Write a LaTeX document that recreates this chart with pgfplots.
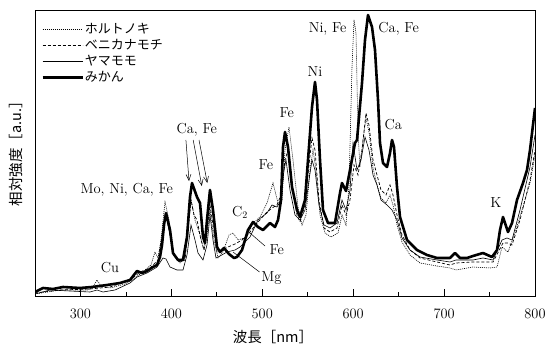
\documentclass[border=0pt]{standalone}
\usepackage{fontspec}
\newfontfamily\jp{Noto Sans CJK JP}
\usepackage{pgfplots}
\pgfplotsset{compat=1.18}
\usetikzlibrary{arrows.meta}
\begin{document}
\fontsize{14.5}{17}\selectfont
\begin{tikzpicture}
\begin{axis}[
  at={(0,0)}, anchor=south west,
  scale only axis, width=500pt, height=286pt,
  xmin=250, xmax=800, ymin=0, ymax=286,
  ytick=\empty,
  xtick={300,400,...,800},
  minor xtick={350,450,...,750},
  xtick pos=bottom,
  tick align=inside,
  major tick length=7pt, minor tick length=4pt,
  every tick/.style={black, line width=0.8pt},
  axis line style={line width=0.9pt},
  xticklabel style={font=\fontsize{14.5}{17}\selectfont, yshift=-8pt},
  legend cell align=left,
  legend image code/.code={\draw[#1] (0pt,0pt) -- (40pt,0pt);},
  legend style={draw=none, fill=none, at={(rel axis cs:0,1)}, anchor=north west,
    xshift=6pt, yshift=-12pt, inner sep=0pt, row sep=1pt,
    font=\jp\fontsize{13}{15}\selectfont,
    nodes={inner sep=1pt, text height=10pt, text depth=3pt}},
]
\addplot[black, line width=0.6pt, dash pattern=on 1pt off 1pt] coordinates {
(250,2)(277.5,6)(308.3,6)(313.8,9)(318.2,16)(322.6,10)(332.5,8)(349,12)(360,18)(371,26)(377.6,31)(382,44)(385.3,38)(388.6,56)(393,94)(397.4,76)(401.8,41)(409.5,33)(415,38)(418.3,71)(421.6,96)(426,76)(431.5,61)(435.9,46)(439.2,61)(442.5,86)(446.9,56)(451.3,38)(456.8,44)(463.4,61)(467.8,63)(473.3,56)(483.2,59)(489.8,73)(497.5,79)(505.2,93)(511.8,113)(517.3,93)(521.7,96)(525,146)(529.4,169)(533.8,136)(539.3,89)(543.7,71)(548.1,81)(552.5,126)(555.8,146)(559.1,126)(563.5,81)(569,63)(575.6,59)(583.3,63)(587.7,81)(592.1,71)(595.4,111)(598.7,229)(600.9,276)(603.1,263)(605.3,163)(607.5,129)(610.8,156)(614.1,178)(617.4,164)(621.8,128)(626.2,111)(630.6,98)(636.1,93)(640.5,101)(643.8,91)(648.2,71)(653.7,54)(662.5,41)(673.5,33)(692.2,30)(706.5,28)(713.1,26)(731.8,29)(750.5,28)(758.2,29)(763.7,49)(770.3,44)(778,63)(785.7,86)(794.5,113)(800,141)
};
\addlegendentry{ホルトノキ}
\addplot[black, line width=0.7pt, dash pattern=on 3pt off 2pt] coordinates {
(250,3)(277.5,6)(310.5,7)(332.5,9)(354.5,16)(365.5,24)(376.5,28)(385.3,36)(390.8,66)(394.1,81)(398.5,61)(402.9,41)(409.5,34)(415,36)(418.3,66)(421.6,96)(424.9,81)(428.2,76)(432.6,56)(435.9,46)(439.2,66)(442.5,91)(445.8,71)(450.2,44)(455.7,46)(462.3,49)(470,52)(477.7,56)(486.5,64)(495.3,74)(504.1,83)(510.7,88)(516.2,91)(520.6,101)(525,136)(528.3,146)(532.7,111)(538.2,81)(541.5,74)(547,91)(551.4,131)(554.7,158)(558,146)(562.4,96)(567.9,68)(574.5,64)(582.2,68)(587.7,91)(592.1,81)(596.5,96)(600.9,131)(605.3,121)(609.7,146)(614.1,183)(617.4,171)(621.8,136)(626.2,121)(630.6,106)(636.1,101)(640.5,111)(643.8,101)(648.2,81)(653.7,61)(662.5,46)(673.5,38)(692.2,34)(706.5,31)(713.1,33)(731.8,34)(742.8,34)(753.8,34)(764.8,53)(770.3,53)(774.7,51)(783.5,76)(794.5,116)(800,146)
};
\addlegendentry{ベニカナモチ}
\addplot[black, line width=0.6pt] coordinates {
(250,2)(266.5,6)(288.5,5)(310.5,4)(318.2,6)(324.8,4)(338,6)(354.5,13)(362.2,19)(373.2,23)(384.2,29)(390.8,38)(394.1,37)(398.5,29)(406.2,26)(412.8,26)(417.2,41)(421.6,71)(426,56)(429.3,43)(434.8,36)(439.2,51)(442.5,81)(445.8,56)(449.1,38)(453.5,40)(461.2,44)(470,46)(475.5,49)(486.5,59)(495.3,76)(505.2,83)(510.7,91)(516.2,89)(520.6,96)(523.9,126)(526.1,136)(530.5,106)(536,81)(541.5,76)(547,86)(551.4,116)(554.7,136)(558,126)(562.4,91)(567.9,71)(574.5,68)(582.2,73)(587.7,96)(592.1,86)(596.5,106)(599.8,153)(604.2,126)(608.6,136)(613,159)(617.4,146)(621.8,121)(626.2,111)(630.6,96)(637.2,91)(642.7,86)(648.2,76)(653.7,58)(662.5,46)(673.5,39)(692.2,36)(706.5,34)(713.1,36)(731.8,36)(742.8,38)(753.8,36)(763.7,56)(769.2,58)(774.7,56)(783.5,86)(794.5,129)(800,161)
};
\addlegendentry{ヤマモモ}
\addplot[black, line width=2.6pt, line join=round] coordinates {
(250,4)(258.8,8)(269.8,7)(280.8,9)(299.5,8)(312.7,9)(329.2,11)(343.5,13)(354.5,16)(362.2,25)(367.7,23)(373.2,25)(379.8,29)(384.2,31)(387.5,39)(389.7,51)(392,72)(394.1,83)(398.5,66)(401.8,43)(407.3,36)(412.8,36)(417.2,59)(420.5,99)(422.7,113)(428.2,99)(431.5,93)(434.8,59)(437,53)(439.2,76)(442.5,106)(445.8,86)(450.2,49)(453.5,44)(457.9,48)(463.4,42)(468.9,38)(472.2,39)(477.7,46)(484.3,66)(489.8,74)(495.3,69)(500.8,66)(508.5,73)(514,69)(517.3,76)(520.6,96)(522.8,149)(525,164)(528.3,149)(532.7,109)(538.2,86)(541.5,79)(547,96)(550.3,136)(554.7,189)(558,214)(560.2,196)(563.5,136)(566.8,86)(572.3,73)(580,73)(585.5,103)(587.7,113)(592.1,105)(596.5,126)(602,153)(604.2,156)(609.7,213)(613,256)(616.3,281)(620.7,269)(624,246)(627.3,196)(629.5,153)(632.8,133)(637.2,129)(640.5,143)(642.7,156)(644.9,149)(648.2,109)(651.5,79)(659.2,56)(670.2,46)(681.2,41)(692.2,38)(706.5,38)(712,43)(717.5,38)(725.2,38)(731.8,40)(742.8,43)(752.7,39)(758.2,46)(761.5,66)(764.8,79)(770.3,64)(774.7,73)(780.2,96)(786.8,113)(791.2,126)(794.5,146)(800,188)
};
\addlegendentry{みかん}
% annotations
\node at (axis cs:332.5,28) {Cu};
\node at (axis cs:351,106) {Mo, Ni, Ca, Fe};
\node at (axis cs:428,166) {Ca, Fe};
\draw[-{Straight Barb[length=6pt,width=5pt]}, line width=0.5pt] (axis cs:416,156) -- (axis cs:419.4,115);
\draw[-{Straight Barb[length=6pt,width=5pt]}, line width=0.5pt] (axis cs:424,156) -- (axis cs:433.5,110);
\draw[-{Straight Barb[length=6pt,width=5pt]}, line width=0.5pt] (axis cs:430.4,156) -- (axis cs:439.5,113);
\node at (axis cs:475.5,84) {C$_2$};
\node at (axis cs:504,131) {Fe};
\node at (axis cs:527,183) {Fe};
\node at (axis cs:558,224) {Ni};
\node at (axis cs:572,267) {Ni, Fe};
\node at (axis cs:650,267) {Ca, Fe};
\node at (axis cs:644,171) {Ca};
\node at (axis cs:757,93) {K};
\draw[line width=0.5pt] (axis cs:486.5,63) -- (axis cs:503,50);
\node at (axis cs:516,46) {Fe};
\draw[line width=0.5pt] (axis cs:467.8,44) -- (axis cs:497,24);
\node at (axis cs:510,18) {Mg};
\end{axis}
\node[rotate=90] at (-19pt,146pt) {\jp\fontsize{14.5}{17}\selectfont 相対強度［a.u.］};
\node at (238pt,-41pt) {\jp\fontsize{14.5}{17}\selectfont 波長［nm］};
\pgfresetboundingbox
\path (-35pt,-60pt) rectangle (510pt,296pt);
\end{tikzpicture}
\end{document}
